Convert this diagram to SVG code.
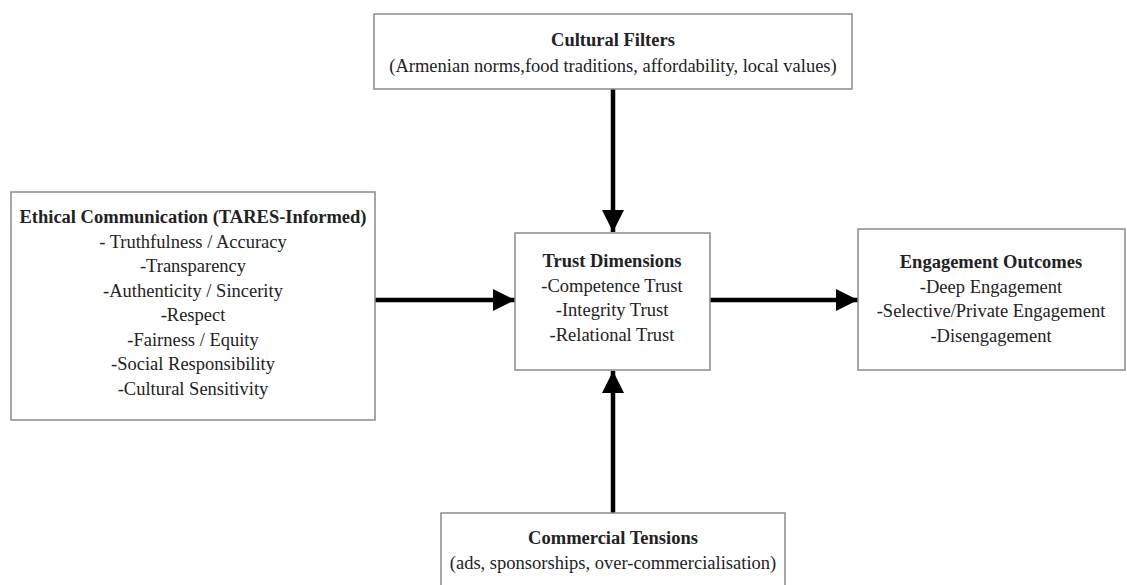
<svg xmlns="http://www.w3.org/2000/svg" width="1127" height="585" viewBox="0 0 1127 585">
  <style>
    .box { fill: #ffffff; stroke: #8a8a8a; stroke-width: 1.5; }
    .t { font-family: "Liberation Serif", "Times New Roman", serif; font-size: 18.5px; fill: #222222; text-anchor: middle; }
    .h { font-weight: bold; }
    .conn { stroke: #000000; stroke-width: 4.5; fill: none; }
  </style>
  <defs>
    <marker id="arrow" viewBox="0 0 10 10" refX="10" refY="5" markerUnits="userSpaceOnUse" markerWidth="22" markerHeight="24" orient="auto">
      <path d="M0,0 L10,5 L0,10 Z" fill="#000000"/>
    </marker>
  </defs>
  <rect width="1127" height="585" fill="#ffffff"/>

  <g id="connectors">
    <line class="conn" x1="613" y1="89" x2="613" y2="232" marker-end="url(#arrow)"/>
    <line class="conn" x1="613" y1="513" x2="613" y2="371" marker-end="url(#arrow)"/>
    <line class="conn" x1="375" y1="300" x2="515" y2="300" marker-end="url(#arrow)"/>
    <line class="conn" x1="710" y1="300" x2="858" y2="300" marker-end="url(#arrow)"/>
  </g>

  <g id="cultural-filters">
    <rect class="box" x="374" y="14" width="478" height="75"/>
    <text class="t h" x="613" y="46">Cultural Filters</text>
    <text class="t" x="613" y="72">(Armenian norms,food traditions, affordability, local values)</text>
  </g>

  <g id="ethical-communication">
    <rect class="box" x="11" y="192" width="364" height="228"/>
    <text class="t h" x="193" y="223">Ethical Communication (TARES-Informed)</text>
    <text class="t" x="193" y="248">- Truthfulness / Accuracy</text>
    <text class="t" x="193" y="272">-Transparency</text>
    <text class="t" x="193" y="297">-Authenticity / Sincerity</text>
    <text class="t" x="193" y="321">-Respect</text>
    <text class="t" x="193" y="346">-Fairness / Equity</text>
    <text class="t" x="193" y="370">-Social Responsibility</text>
    <text class="t" x="193" y="395">-Cultural Sensitivity</text>
  </g>

  <g id="trust-dimensions">
    <rect class="box" x="515" y="233" width="195" height="137"/>
    <text class="t h" x="612" y="267">Trust Dimensions</text>
    <text class="t" x="612" y="292">-Competence Trust</text>
    <text class="t" x="612" y="316">-Integrity Trust</text>
    <text class="t" x="612" y="341">-Relational Trust</text>
  </g>

  <g id="engagement-outcomes">
    <rect class="box" x="858" y="229" width="267" height="141"/>
    <text class="t h" x="991" y="268">Engagement Outcomes</text>
    <text class="t" x="991" y="293">-Deep Engagement</text>
    <text class="t" x="991" y="317">-Selective/Private Engagement</text>
    <text class="t" x="991" y="342">-Disengagement</text>
  </g>

  <g id="commercial-tensions">
    <rect class="box" x="441" y="513" width="344" height="90"/>
    <text class="t h" x="613" y="544">Commercial Tensions</text>
    <text class="t" x="613" y="569">(ads, sponsorships, over-commercialisation)</text>
  </g>
</svg>
